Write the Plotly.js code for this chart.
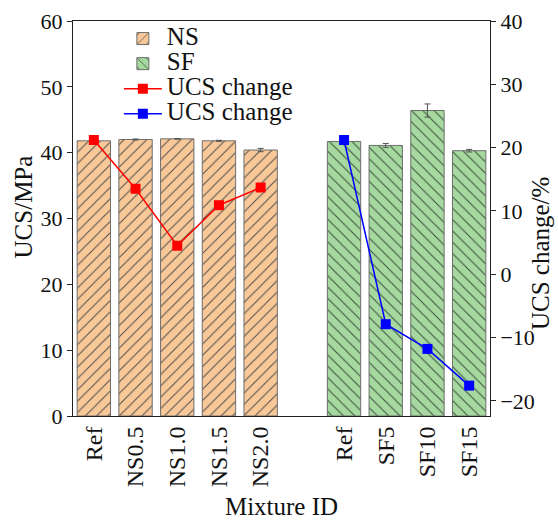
<!DOCTYPE html>
<html>
<head>
<meta charset="utf-8">
<script src="https://cdn.plot.ly/plotly-3.0.1.min.js"></script>
<style>
  html, body { margin: 0; padding: 0; background: #fff; }
  #chart { width: 558px; height: 520px; }
</style>
</head>
<body>
<div id="chart"></div>
<script>
// Mixture IDs and slot positions (slot 5 is left empty between the two groups)
const nsLabels = ["Ref", "NS0.5", "NS1.0", "NS1.5", "NS2.0"];
const sfLabels = ["Ref", "SF5", "SF10", "SF15"];
const nsPos = [0, 1, 2, 3, 4];
const sfPos = [6, 7, 8, 9];

// Compressive strength, MPa, with standard deviations
const nsUCS = [41.8, 42.0, 42.1, 41.8, 40.4];
const nsErr = [0.05, 0.08, 0.05, 0.08, 0.25];
const sfUCS = [41.7, 41.1, 46.4, 40.3];
const sfErr = [0.05, 0.3, 1.0, 0.2];

// Change in UCS, %
const nsChange = [21.2, 13.5, 4.5, 10.9, 13.7];
const sfChange = [21.2, -7.9, -11.8, -17.6];

const serif = "Liberation Serif";
// legend rows are tight, so the entry text is enlarged inside the row
const big = s => '<span style="font-size:25px">' + s + '</span>';

const traces = [
  {
    type: "bar", name: big("NS"), x: nsPos, y: nsUCS, width: 0.8,
    error_y: { type: "data", array: nsErr, visible: true, color: "#555", thickness: 1, width: 3 },
    marker: {
      color: "#f9c898",
      line: { color: "#6e6e6e", width: 1 },
      pattern: { shape: "/", fgcolor: "#4a4a4a", bgcolor: "#f9c898", size: 8, solidity: 0.12 }
    }
  },
  {
    type: "bar", name: big("SF"), x: sfPos, y: sfUCS, width: 0.8,
    error_y: { type: "data", array: sfErr, visible: true, color: "#555", thickness: 1, width: 3 },
    marker: {
      color: "#a6d9a0",
      line: { color: "#6e6e6e", width: 1 },
      pattern: { shape: "\\", fgcolor: "#3a4a3a", bgcolor: "#a6d9a0", size: 8, solidity: 0.12 }
    }
  },
  {
    type: "scatter", mode: "lines+markers", name: big("UCS change"),
    x: nsPos, y: nsChange, yaxis: "y2",
    line: { color: "#ff0000", width: 1.5 },
    marker: { symbol: "square", size: 10, color: "#ff0000" }
  },
  {
    type: "scatter", mode: "lines+markers", name: big("UCS change"),
    x: sfPos, y: sfChange, yaxis: "y2",
    line: { color: "#0000ff", width: 1.5 },
    marker: { symbol: "square", size: 10, color: "#0000ff" }
  }
];

const layout = {
  width: 558, height: 520,
  margin: { l: 73, r: 68, t: 21, b: 104, autoexpand: false },
  paper_bgcolor: "#fff", plot_bgcolor: "#fff",
  font: { family: serif, size: 22, color: "#111" },
  barmode: "overlay",
  showlegend: true,
  legend: {
    x: 0.11, y: 1, xanchor: "left", yanchor: "top",
    bgcolor: "rgba(0,0,0,0)", font: { size: 17 },
    tracegroupgap: 0, itemwidth: 38
  },
  xaxis: {
    range: [-0.5, 9.5],
    tickvals: nsPos.concat(sfPos),
    ticktext: nsLabels.concat(sfLabels),
    tickangle: -90, ticks: "", showgrid: false, zeroline: false,
    tickfont: { size: 24 },
    showline: true, linecolor: "#222", linewidth: 1, mirror: true,
    title: { text: "Mixture ID", font: { size: 25 }, standoff: 13 }
  },
  yaxis: {
    range: [0, 60], dtick: 10, ticks: "outside", ticklen: 5, tickcolor: "#222",
    showgrid: false, zeroline: false, showline: true, linecolor: "#222", linewidth: 1
  },
  yaxis2: {
    overlaying: "y", side: "right",
    range: [-22.4, 40], tickvals: [-20, -10, 0, 10, 20, 30, 40],
    ticktext: ["\u221220", "\u221210", "0", "10", "20", "30", "40"],
    ticks: "outside", ticklen: 5, tickcolor: "#222",
    showgrid: false, zeroline: false, showline: true, linecolor: "#222", linewidth: 1
  },
  // vertical axis titles
  annotations: [
    { text: "UCS/MPa", xref: "paper", yref: "paper", x: -0.118, y: 0.53,
      xanchor: "center", yanchor: "middle", textangle: -90, showarrow: false,
      font: { size: 25 } },
    { text: "UCS change/%", xref: "paper", yref: "paper", x: 1.12, y: 0.41,
      xanchor: "center", yanchor: "middle", textangle: -90, showarrow: false,
      font: { size: 25 } }
  ]
};

Plotly.newPlot("chart", traces, layout, { displayModeBar: false, staticPlot: true });
</script>
</body>
</html>
